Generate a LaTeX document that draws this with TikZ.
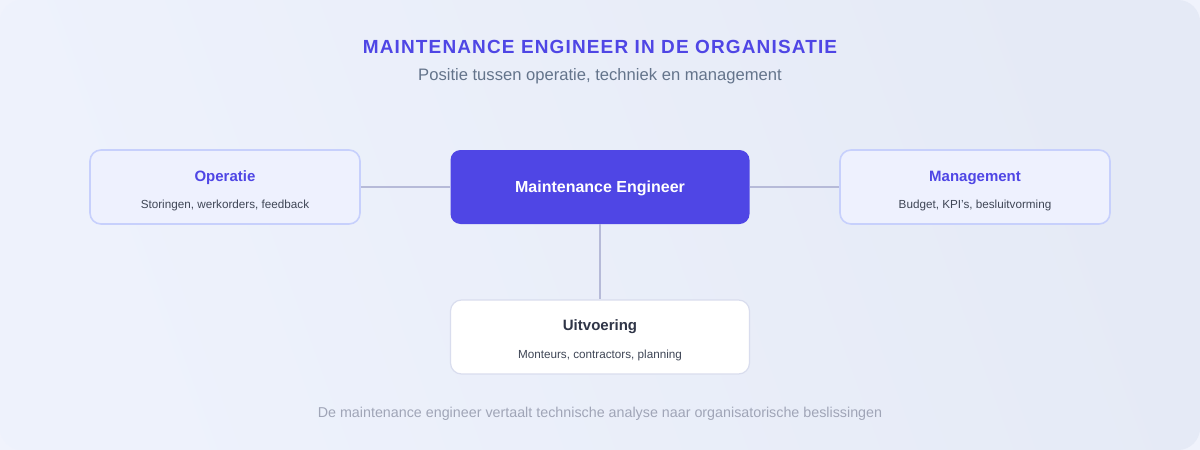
\documentclass[tikz,border=0pt]{standalone}
\usepackage{fontspec}
\setmainfont{Liberation Sans}
\newfontfamily\titlefont[LetterSpace=6]{Liberation Sans}
\usetikzlibrary{positioning}
\definecolor{outerbg}{HTML}{F0F3FC}
\definecolor{bgA}{HTML}{EEF2FC}
\definecolor{bgB}{HTML}{E5EAF6}
\definecolor{indigo}{HTML}{4F46E5}
\definecolor{sidefill}{HTML}{EEF1FE}
\definecolor{sideborder}{HTML}{C7D0FC}
\definecolor{bottomborder}{HTML}{D9DDEE}
\definecolor{linecol}{HTML}{B6BAD8}
\definecolor{subgrey}{HTML}{64748B}
\definecolor{desctext}{HTML}{3F4656}
\definecolor{darktext}{HTML}{2F3547}
\definecolor{footgrey}{HTML}{A0A5B7}
\tikzset{
  sidebox/.style={draw=sideborder, line width=1.6pt, fill=sidefill, rounded corners=11pt, minimum width=270pt, minimum height=74pt, inner sep=0pt},
  centerbox/.style={fill=indigo, rounded corners=10pt, minimum width=299pt, minimum height=74pt, inner sep=0pt},
  bottombox/.style={draw=bottomborder, line width=1.2pt, fill=white, rounded corners=11pt, minimum width=299pt, minimum height=74pt, inner sep=0pt},
  boxtitle/.style={font=\fontsize{15}{18}\selectfont\bfseries, text=indigo, inner sep=0pt},
  boxdesc/.style={font=\fontsize{11.7}{14}\selectfont, text=desctext, inner sep=0pt},
  connector/.style={draw=linecol, line width=2pt},
}
\begin{document}
\begin{tikzpicture}[x=1pt,y=-1pt]
\useasboundingbox (0,0) rectangle (1200,450);
\fill[outerbg] (0,0) rectangle (1200,450);
\shade[left color=bgA, right color=bgB, shading angle=110, rounded corners=22pt] (0,0) rectangle (1200,450);
% title
\node[font=\titlefont\fontsize{19}{22}\selectfont\bfseries, text=indigo, inner sep=0pt] (title) at (600,47) {MAINTENANCE ENGINEER IN DE ORGANISATIE};
\node[font=\fontsize{16.6}{19}\selectfont, text=subgrey, inner sep=0pt] (subtitle) at (600,76) {Positie tussen operatie, techniek en management};
% boxes
\node[sidebox] (op) at (225,187) {};
\node[boxtitle] (optitle) at (225,177.5) {Operatie};
\node[boxdesc] (opdesc) at (225,205) {Storingen, werkorders, feedback};
\node[centerbox] (me) at (600,187) {};
\node[font=\fontsize{16}{19}\selectfont\bfseries, text=white, inner sep=0pt] (metitle) at (600,188) {Maintenance Engineer};
\node[sidebox] (mg) at (975,187) {};
\node[boxtitle] (mgtitle) at (975,177.5) {Management};
\node[boxdesc] (mgdesc) at (975,205) {Budget, KPI's, besluitvorming};
\node[bottombox] (ui) at (600,337) {};
\node[boxtitle, text=darktext] (uititle) at (600,327) {Uitvoering};
\node[boxdesc] (uidesc) at (600,355) {Monteurs, contractors, planning};
% connectors
\draw[connector] (op.east) -- (me.west);
\draw[connector] (me.east) -- (mg.west);
\draw[connector] (me.south) -- (ui.north);
% footer
\node[font=\fontsize{14.3}{17}\selectfont, text=footgrey, inner sep=0pt] (footer) at (600,414) {De maintenance engineer vertaalt technische analyse naar organisatorische beslissingen};
\end{tikzpicture}
\end{document}
